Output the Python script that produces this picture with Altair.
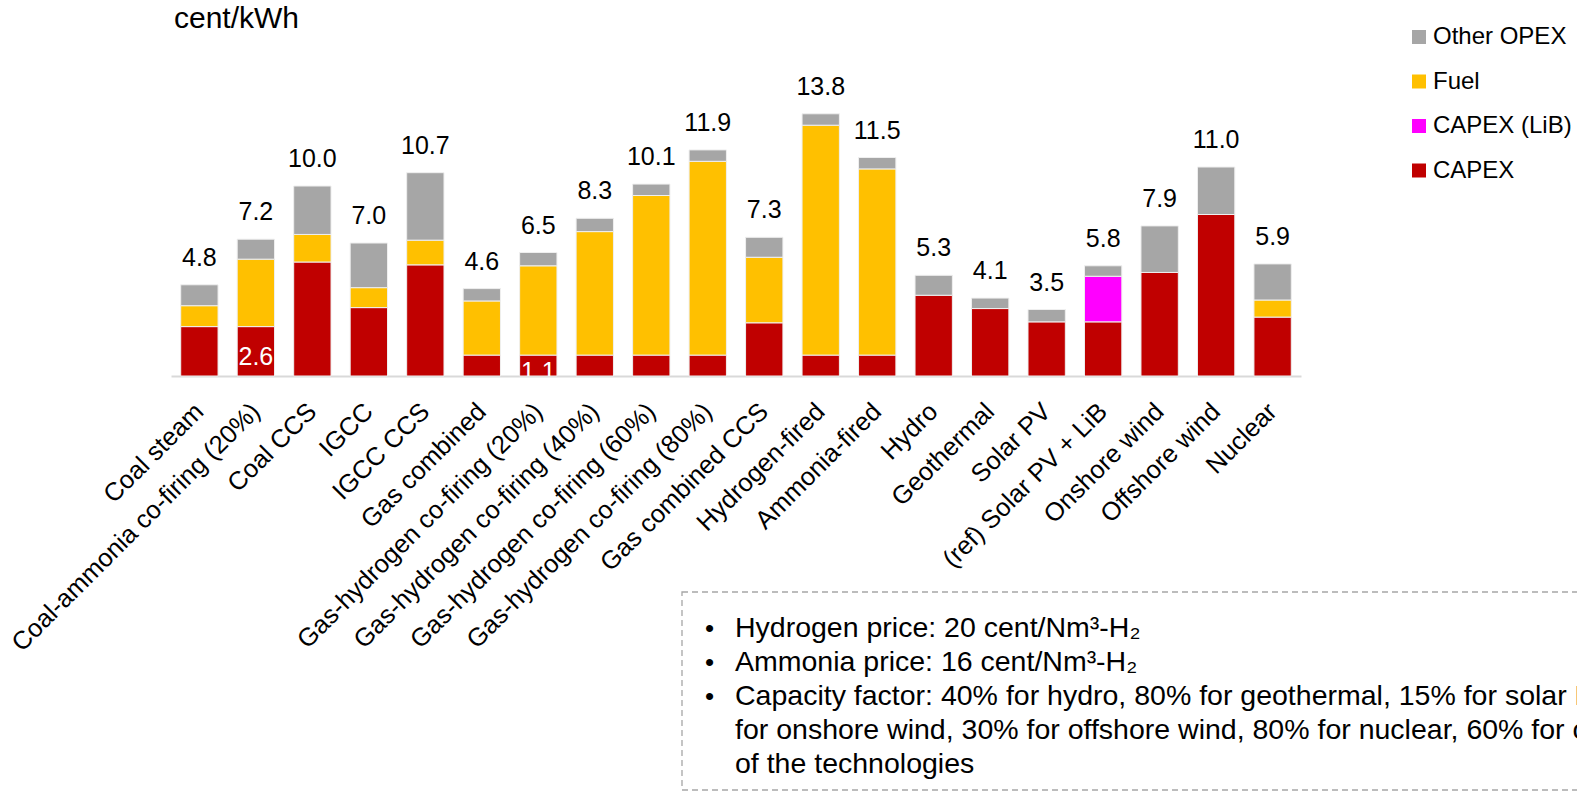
import altair as alt
import pandas as pd

FONT = "Liberation Sans"

technologies = [
    "Coal steam", "Coal-ammonia co-firing (20%)", "Coal CCS", "IGCC", "IGCC CCS",
    "Gas combined", "Gas-hydrogen co-firing (20%)", "Gas-hydrogen co-firing (40%)",
    "Gas-hydrogen co-firing (60%)", "Gas-hydrogen co-firing (80%)", "Gas combined CCS",
    "Hydrogen-fired", "Ammonia-fired", "Hydro", "Geothermal", "Solar PV",
    "(ref) Solar PV + LiB", "Onshore wind", "Offshore wind", "Nuclear",
]
# cost components, cent/kWh
capex = [2.6, 2.6, 6.0, 3.6, 5.85, 1.1, 1.1, 1.1, 1.1, 1.1, 2.8, 1.1, 1.1,
         4.25, 3.55, 2.85, 2.85, 5.45, 8.5, 3.1]
capex_lib = [0, 0, 0, 0, 0, 0, 0, 0, 0, 0, 0, 0, 0, 0, 0, 0, 2.4, 0, 0, 0]
fuel = [1.1, 3.55, 1.45, 1.05, 1.3, 2.85, 4.7, 6.5, 8.4, 10.2, 3.45, 12.1, 9.8,
        0, 0, 0, 0, 0, 0, 0.9]
other_opex = [1.1, 1.05, 2.55, 2.35, 3.55, 0.65, 0.7, 0.7, 0.6, 0.6, 1.05, 0.6, 0.6,
              1.05, 0.55, 0.65, 0.55, 2.45, 2.5, 1.9]

# bars whose CAPEX value is printed inside the bar
capex_labelled = ["Coal-ammonia co-firing (20%)", "Gas-hydrogen co-firing (20%)"]

stack_components = ["CAPEX", "CAPEX (LiB)", "Fuel", "Other OPEX"]   # bottom -> top
legend_order = ["Other OPEX", "Fuel", "CAPEX (LiB)", "CAPEX"]
legend_colors = ["#A6A6A6", "#FFC000", "#FF00FF", "#C00000"]

note_lines = [
    "Hydrogen price: 20 cent/Nm³-H₂",
    "Ammonia price: 16 cent/Nm³-H₂",
    "Capacity factor: 40% for hydro, 80% for geothermal, 15% for solar PV, 25%",
    "for onshore wind, 30% for offshore wind, 80% for nuclear, 60% for other",
    "of the technologies",
]

rows = []
for i, tech in enumerate(technologies):
    for k, (comp, series) in enumerate(zip(stack_components, [capex, capex_lib, fuel, other_opex])):
        if series[i] > 0:
            rows.append({"tech": tech, "component": comp, "value": series[i], "rank": k})
segments = pd.DataFrame(rows)

totals = pd.DataFrame({
    "tech": technologies,
    "total": [round(a + b + c + d, 1) for a, b, c, d in zip(capex, capex_lib, fuel, other_opex)],
})

inner = segments[(segments["component"] == "CAPEX") & (segments["tech"].isin(capex_labelled))].copy()

W, H = 1130, 342
PAD_L, PAD_T = 171, 34

x_enc = alt.X(
    "tech:N", sort=technologies, title=None,
    scale=alt.Scale(paddingInner=0.339, paddingOuter=0.172),
    axis=alt.Axis(
        labelAngle=-45, labelAlign="right", labelBaseline="middle",
        labelFont=FONT, labelFontSize=25.5, labelColor="black", labelLimit=600,
        labelPadding=31, ticks=False, domainColor="#D9D9D9", domainWidth=2,
        grid=False,
    ),
)
y_scale = alt.Scale(domain=[0, 18])

bars = alt.Chart(segments).mark_bar(stroke="#EFEFEF", strokeWidth=1).encode(
    x=x_enc,
    y=alt.Y("value:Q", stack="zero", scale=y_scale, axis=None),
    color=alt.Color(
        "component:N",
        scale=alt.Scale(domain=legend_order, range=legend_colors),
        legend=alt.Legend(
            title=None, orient="none", legendX=1236, legendY=-9,
            symbolType="square", symbolSize=196, symbolStrokeWidth=0,
            labelFont=FONT, labelFontSize=24, labelColor="black",
            labelOffset=2, rowPadding=20.5,
        ),
    ),
    order=alt.Order("rank:Q"),
)

total_labels = alt.Chart(totals).mark_text(
    baseline="alphabetic", dy=-19, font=FONT, fontSize=25, color="black"
).encode(
    x=x_enc,
    y=alt.Y("total:Q", scale=y_scale, axis=None),
    text=alt.Text("total:Q", format=".1f"),
)

inner_labels = alt.Chart(inner).transform_calculate(
    mid="datum.value / 2"
).mark_text(
    baseline="middle", dy=6, font=FONT, fontSize=25, color="white", clip=True
).encode(
    x=x_enc,
    y=alt.Y("mid:Q", scale=y_scale, axis=None),
    text=alt.Text("value:Q", format=".1f"),
)

one = pd.DataFrame({"k": [0]})

unit_label = alt.Chart(one).mark_text(
    align="left", baseline="alphabetic", font=FONT, fontSize=30, color="black"
).encode(x=alt.value(3), y=alt.value(-6), text=alt.value("cent/kWh"))

note_box = alt.Chart(one).mark_rect(
    fill="white", fillOpacity=0, stroke="#A6A6A6", strokeWidth=1.3, strokeDash=[6, 4]
).encode(x=alt.value(511), x2=alt.value(1460), y=alt.value(558), y2=alt.value(756))

note_bullets = alt.Chart(one).mark_text(
    align="left", baseline="alphabetic", font=FONT, fontSize=26, lineHeight=34, color="black"
).encode(x=alt.value(534), y=alt.value(603), text=alt.value(["•", "•", "•"]))

note_text = alt.Chart(one).mark_text(
    align="left", baseline="alphabetic", font=FONT, fontSize=28.5, lineHeight=34, color="black"
).encode(x=alt.value(564), y=alt.value(603), text=alt.value(note_lines))

chart = alt.layer(
    bars, total_labels, inner_labels, unit_label, note_box, note_bullets, note_text
).properties(
    width=W, height=H,
    background="white",
    autosize=alt.AutoSizeParams(type="none"),
    padding={"left": PAD_L, "top": PAD_T, "right": 1577 - PAD_L - W, "bottom": 793 - PAD_T - H},
).configure_view(strokeWidth=0)

chart.save("out.html", embed_options={"renderer": "svg", "actions": False})
